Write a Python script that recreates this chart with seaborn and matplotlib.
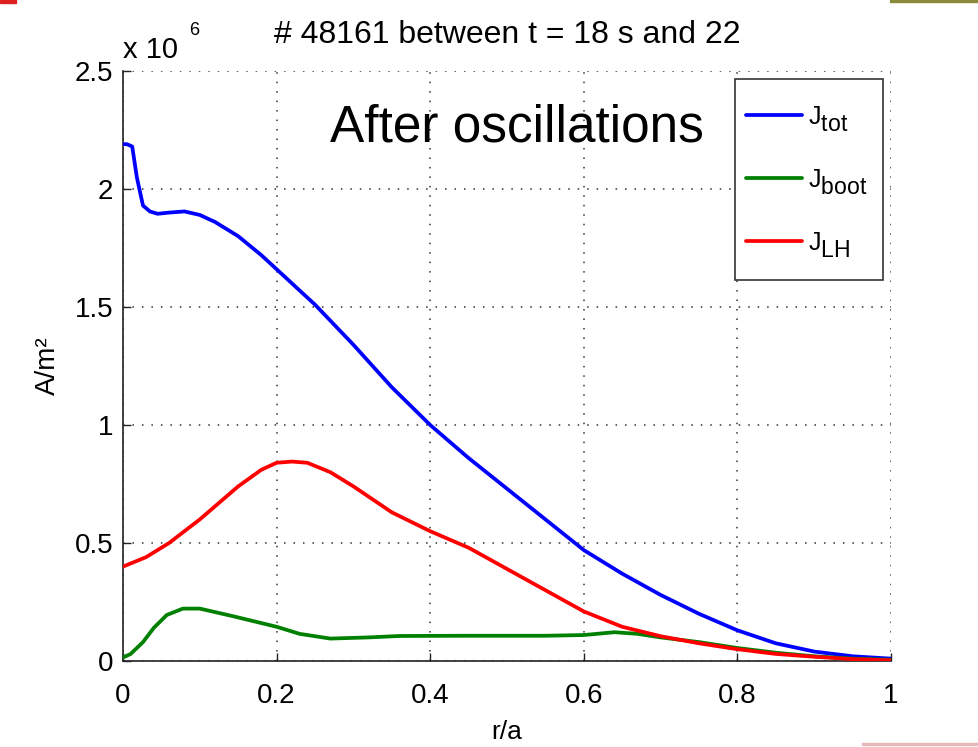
import numpy as np
import pandas as pd
import matplotlib
matplotlib.use("Agg")
import matplotlib.pyplot as plt
import matplotlib._mathtext as mathtext_impl
import seaborn as sns

# Current density profiles vs normalised radius (units of 10^6 A/m^2)
r_tot = [0, 0.005, 0.012, 0.018, 0.026, 0.035, 0.045, 0.06, 0.08, 0.1, 0.12,
         0.15, 0.18, 0.2, 0.25, 0.3, 0.35, 0.4, 0.45, 0.5, 0.55, 0.6, 0.65,
         0.7, 0.75, 0.8, 0.85, 0.9, 0.95, 1.0]
j_tot = [2.19, 2.19, 2.18, 2.05, 1.93, 1.905, 1.895, 1.90, 1.905, 1.89, 1.86,
         1.80, 1.72, 1.66, 1.51, 1.34, 1.16, 1.00, 0.86, 0.73, 0.60, 0.47, 0.37,
         0.28, 0.20, 0.13, 0.075, 0.04, 0.02, 0.01]

r_boot = [0, 0.01, 0.026, 0.04, 0.057, 0.078, 0.1, 0.143, 0.2, 0.23, 0.27,
          0.32, 0.36, 0.45, 0.55, 0.6, 0.64, 0.67, 0.7, 0.75, 0.8, 0.85, 0.9,
          0.95, 1.0]
j_boot = [0.015, 0.03, 0.08, 0.14, 0.195, 0.222, 0.222, 0.19, 0.145, 0.115,
          0.095, 0.10, 0.106, 0.107, 0.107, 0.11, 0.122, 0.115, 0.10, 0.08,
          0.055, 0.035, 0.02, 0.01, 0.005]

r_lh = [0, 0.03, 0.06, 0.1, 0.15, 0.18, 0.2, 0.22, 0.24, 0.27, 0.3, 0.35,
        0.4, 0.45, 0.5, 0.55, 0.6, 0.65, 0.7, 0.75, 0.8, 0.85, 0.9, 0.95, 1.0]
j_lh = [0.40, 0.44, 0.50, 0.60, 0.74, 0.81, 0.84, 0.845, 0.84, 0.80, 0.74,
        0.63, 0.55, 0.48, 0.39, 0.30, 0.21, 0.145, 0.105, 0.075, 0.05, 0.03,
        0.018, 0.008, 0.003]

series_labels = [r"$\mathregular{J_{tot}}$", r"$\mathregular{J_{boot}}$",
                 r"$\mathregular{J_{LH}}$"]
series_colors = ["#0000ff", "#008000", "#ff0000"]

x_ticks = [0, 0.2, 0.4, 0.6, 0.8, 1.0]
x_ticklabels = ["0", "0.2", "0.4", "0.6", "0.8", "1"]
y_ticks = [0, 0.5, 1.0, 1.5, 2.0, 2.5]
y_ticklabels = ["0", "0.5", "1", "1.5", "2", "2.5"]

sns.set_theme(style="white")
plt.rcParams["font.family"] = ["Liberation Sans", "DejaVu Sans"]
plt.rcParams["text.color"] = "black"
plt.rcParams["axes.labelcolor"] = "black"
plt.rcParams["mathtext.fontset"] = "custom"
plt.rcParams["mathtext.rm"] = "Liberation Sans"
# near full-size, lowered subscripts in the legend labels
mathtext_impl.SHRINK_FACTOR = 0.92
mathtext_impl.FontConstantsBase.sub1 = 0.55
mathtext_impl.FontConstantsBase.sub2 = 0.7

W, H = 979, 747
fig = plt.figure(figsize=(W / 100, H / 100), dpi=100)
ax = fig.add_axes([123 / W, 1 - 661 / H, (891 - 123) / W, (661 - 71) / H])

frames = [
    pd.DataFrame({"r": r_tot, "J": j_tot, "s": series_labels[0]}),
    pd.DataFrame({"r": r_boot, "J": j_boot, "s": series_labels[1]}),
    pd.DataFrame({"r": r_lh, "J": j_lh, "s": series_labels[2]}),
]
df = pd.concat(frames, ignore_index=True)
sns.lineplot(data=df, x="r", y="J", hue="s", palette=series_colors,
             hue_order=series_labels, sort=False, linewidth=2.7, ax=ax,
             zorder=3)

ax.set_xlim(0, 1)
ax.set_ylim(0, 2.5)
ax.set_xticks(x_ticks)
ax.set_xticklabels(x_ticklabels)
ax.set_yticks(y_ticks)
ax.set_yticklabels(y_ticklabels)
ax.tick_params(direction="in", length=6, width=1, colors="#222222",
               labelcolor="black", labelsize=20,
               bottom=True, left=True, top=False, right=False)
ax.tick_params(axis="x", pad=16)
ax.tick_params(axis="y", pad=7)
ax.grid(True, color="#333333", linestyle=(0, (1, 5.2)), linewidth=1.1)
for side in ["top", "right"]:
    ax.spines[side].set_visible(False)
for side in ["left", "bottom"]:
    ax.spines[side].set_color("#222222")
    ax.spines[side].set_linewidth(1.2)

ax.set_xlabel("r/a", fontsize=19, labelpad=8)
ax.set_ylabel("A/m\u00b2", fontsize=20, labelpad=10)
ax.set_title("# 48161 between t = 18 s and 22", fontsize=23, pad=20,
             color="black")

# exponent multiplier shown above the y axis
ax.text(0.0, 1.012, "x 10", transform=ax.transAxes, fontsize=21,
        ha="left", va="bottom", color="black")
ax.text(0.086, 1.055, "6", transform=ax.transAxes, fontsize=13,
        ha="left", va="bottom", color="black")

ax.text(0.27, 2.26, "After oscillations", fontsize=37, ha="left",
        va="center", color="black")

# legend entries, with a separate white rectangular frame behind them
leg = ax.legend(loc="upper left", bbox_to_anchor=(746 / W, 1 - 104 / H),
                bbox_transform=fig.transFigure, fontsize=18, frameon=False,
                handlelength=2.24, handletextpad=0.24, labelspacing=1.33,
                borderpad=0, borderaxespad=0, labelcolor="black")
leg.set_zorder(6)
for h in leg.get_lines():
    h.set_linewidth(2.7)
frame = plt.Rectangle((735 / W, 1 - 280 / H), 148 / W, 201 / H,
                      transform=fig.transFigure, facecolor="white",
                      edgecolor="#333333", linewidth=1.2, zorder=5,
                      clip_on=False)
ax.add_patch(frame)

# slide corner accents
fig.add_artist(plt.Rectangle((0, 1 - 3 / H), 16 / W, 3 / H,
                             transform=fig.transFigure, color="#e02020"))
fig.add_artist(plt.Rectangle((890 / W, 1 - 2 / H), 89 / W, 2 / H,
                             transform=fig.transFigure, color="#8a8a3a"))
fig.add_artist(plt.Rectangle((862 / W, 2 / H), 117 / W, 2 / H,
                             transform=fig.transFigure, color="#e8b8b8"))

fig.savefig("out.png", dpi=100)
